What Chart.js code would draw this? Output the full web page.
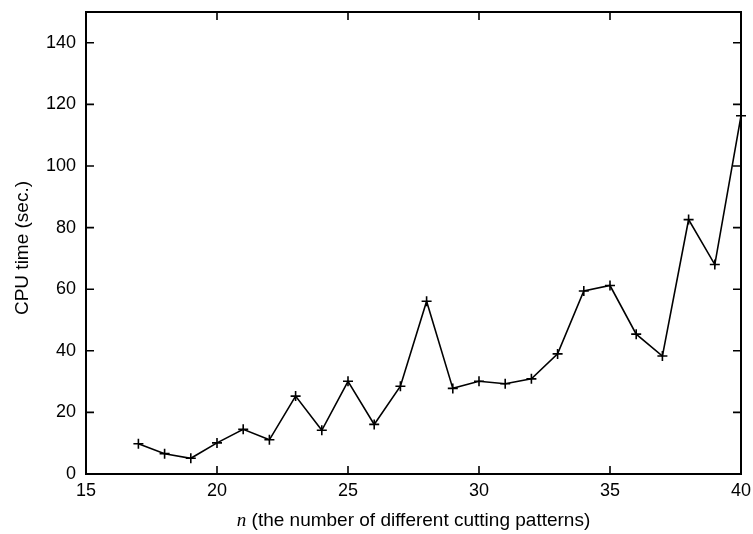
<!DOCTYPE html>
<html>
<head>
<meta charset="utf-8">
<script src="https://cdn.jsdelivr.net/npm/chart.js@4/dist/chart.umd.min.js"></script>
<style>
  html, body { margin: 0; padding: 0; background: #fff; }
  #wrap { width: 753px; height: 534px; }
</style>
</head>
<body>
<div id="wrap"><canvas id="c" width="753" height="534"></canvas></div>
<script>
// Number of different cutting patterns
const patterns = [17, 18, 19, 20, 21, 22, 23, 24, 25, 26, 27, 28, 29, 30, 31, 32, 33, 34, 35, 36, 37, 38, 39, 40];
// CPU time in seconds
const cpuTime = [9.8, 6.6, 5.1, 10.1, 14.5, 11.1, 25.3, 14.2, 30.1, 16.1, 28.5, 56.1, 27.8, 30.1, 29.3, 30.9, 39.0, 59.4, 61.2, 45.4, 38.3, 82.6, 68.0, 116.3];
// Tick labels
const xTicks = [15, 20, 25, 30, 35, 40];
const yTicks = [0, 20, 40, 60, 80, 100, 120, 140];

const FONT = '"Liberation Sans", Arial, Helvetica, sans-serif';
const TICK_SIZE = 18;
const TITLE_SIZE = 19;

// Frame around the plot plus inward tick marks on all four sides
const framePlugin = {
  id: 'frame',
  afterDatasetsDraw(chart) {
    const { ctx, chartArea: a, scales } = chart;
    ctx.save();
    ctx.strokeStyle = '#000';
    ctx.lineWidth = 2;
    ctx.strokeRect(a.left, a.top, a.right - a.left, a.bottom - a.top);
    ctx.lineWidth = 1.6;
    const t = 8;
    ctx.beginPath();
    xTicks.slice(1, -1).forEach(v => {
      const x = scales.x.getPixelForValue(v);
      ctx.moveTo(x, a.bottom); ctx.lineTo(x, a.bottom - t);
      ctx.moveTo(x, a.top); ctx.lineTo(x, a.top + t);
    });
    yTicks.slice(1).forEach(v => {
      const y = scales.y.getPixelForValue(v);
      ctx.moveTo(a.left, y); ctx.lineTo(a.left + t, y);
      ctx.moveTo(a.right, y); ctx.lineTo(a.right - t, y);
    });
    ctx.stroke();
    ctx.restore();
  }
};

// Axis titles (the x title has an italic variable name)
const titlePlugin = {
  id: 'titles',
  afterDraw(chart) {
    const { ctx, chartArea: a } = chart;
    ctx.save();
    ctx.fillStyle = '#000';
    ctx.textBaseline = 'middle';
    const italic = 'italic ' + TITLE_SIZE + 'px "Liberation Serif", serif';
    const normal = TITLE_SIZE + 'px ' + FONT;
    const n = 'n';
    const rest = ' (the number of different cutting patterns)';
    ctx.font = italic; const w1 = ctx.measureText(n).width;
    ctx.font = normal; const w2 = ctx.measureText(rest).width;
    const x0 = (a.left + a.right) / 2 - (w1 + w2) / 2;
    const ty = a.bottom + 47;
    ctx.textAlign = 'left';
    ctx.font = italic; ctx.fillText(n, x0, ty);
    ctx.font = normal; ctx.fillText(rest, x0 + w1, ty);

    ctx.translate(23, (a.top + a.bottom) / 2 + 5);
    ctx.rotate(-Math.PI / 2);
    ctx.textAlign = 'center';
    ctx.font = normal;
    ctx.fillText('CPU time (sec.)', 0, 0);
    ctx.restore();
  }
};

function noPadding(s) {
  s.paddingLeft = 0; s.paddingRight = 0; s.paddingTop = 0; s.paddingBottom = 0;
}

new Chart(document.getElementById('c'), {
  type: 'line',
  data: {
    datasets: [{
      data: patterns.map((p, i) => ({ x: p, y: cpuTime[i] })),
      borderColor: '#000',
      borderWidth: 1.6,
      pointStyle: 'cross',
      pointRadius: 5,
      pointBorderWidth: 1.6,
      pointBorderColor: '#000',
      pointBackgroundColor: '#000',
      tension: 0,
      fill: false,
      clip: false
    }]
  },
  options: {
    responsive: false,
    animation: false,
    devicePixelRatio: 1,
    layout: { padding: { left: 0, right: 12, top: 12, bottom: 0 } },
    plugins: { legend: { display: false }, tooltip: { enabled: false } },
    scales: {
      x: {
        type: 'linear',
        min: 15, max: 40,
        afterBuildTicks(s) { s.ticks = xTicks.map(v => ({ value: v })); },
        afterFit(s) { s.height = 60; noPadding(s); },
        grid: { display: false, drawTicks: false },
        border: { display: false },
        ticks: { color: '#000', padding: 6, maxRotation: 0, font: { family: FONT, size: TICK_SIZE } }
      },
      y: {
        type: 'linear',
        min: 0, max: 150,
        afterBuildTicks(s) { s.ticks = yTicks.map(v => ({ value: v })); },
        afterFit(s) { s.width = 86; noPadding(s); },
        grid: { display: false, drawTicks: false },
        border: { display: false },
        ticks: { color: '#000', padding: 10, font: { family: FONT, size: TICK_SIZE } }
      }
    }
  },
  plugins: [framePlugin, titlePlugin]
});
</script>
</body>
</html>
